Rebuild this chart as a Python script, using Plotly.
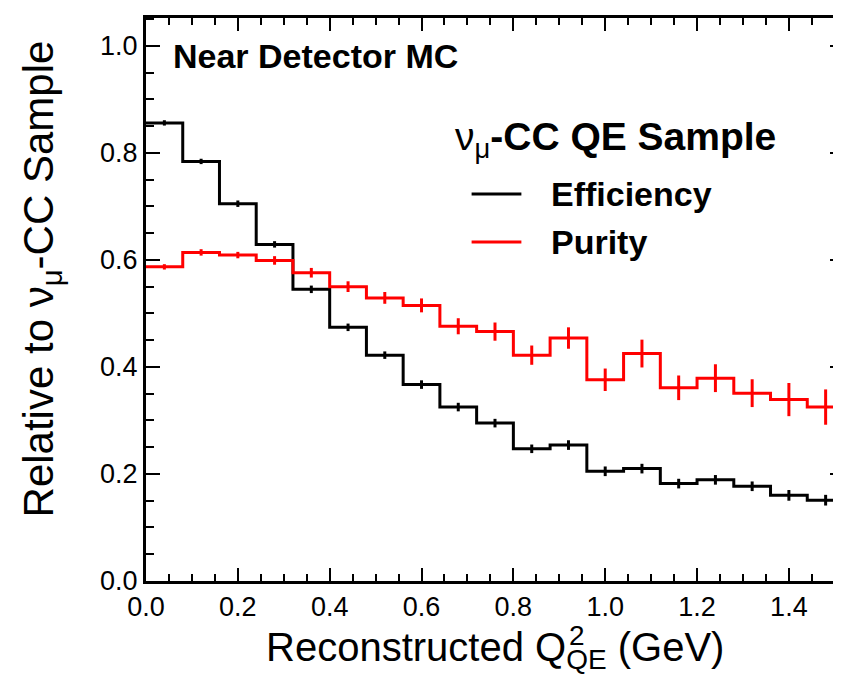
import plotly.graph_objects as go

# bin edges (GeV), 19 bins of 0.08
bin_edges = [round(0.08 * i, 2) for i in range(20)]

efficiency = [0.856, 0.784, 0.705, 0.629, 0.545, 0.474, 0.422, 0.367, 0.325, 0.295,
              0.247, 0.254, 0.205, 0.210, 0.182, 0.189, 0.177, 0.160, 0.151]
efficiency_err = [0.005, 0.005, 0.006, 0.006, 0.007, 0.007, 0.007, 0.008, 0.008, 0.008,
                  0.008, 0.009, 0.009, 0.009, 0.009, 0.009, 0.009, 0.010, 0.010]

purity = [0.587, 0.614, 0.609, 0.599, 0.576, 0.550, 0.529, 0.515, 0.476, 0.466,
          0.422, 0.454, 0.376, 0.425, 0.361, 0.379, 0.351, 0.339, 0.325]
purity_err = [0.005, 0.006, 0.006, 0.008, 0.009, 0.010, 0.011, 0.013, 0.015, 0.017,
              0.018, 0.020, 0.021, 0.026, 0.023, 0.026, 0.026, 0.031, 0.033]

x_tick_vals = [0.0, 0.2, 0.4, 0.6, 0.8, 1.0, 1.2, 1.4]
y_tick_vals = [0.0, 0.2, 0.4, 0.6, 0.8, 1.0]

FONT = "Liberation Sans, Arial, Helvetica, sans-serif"

centers = [(bin_edges[i] + bin_edges[i + 1]) / 2 for i in range(len(bin_edges) - 1)]

fig = go.Figure()

for vals, errs, col in [(efficiency, efficiency_err, "black"), (purity, purity_err, "#ff0000")]:
    fig.add_trace(go.Scatter(
        x=bin_edges, y=vals + [vals[-1]], mode="lines",
        line=dict(color=col, width=3, shape="hv"), showlegend=False, hoverinfo="skip"))
    fig.add_trace(go.Scatter(
        x=centers, y=vals, mode="markers", marker=dict(size=0.1, color=col),
        error_y=dict(type="data", array=errs, visible=True, color=col, thickness=3, width=0),
        showlegend=False))

# plot area in pixels: x 138..839, y 10..573
W, H = 841, 681
L, R, T, B = 138, 839, 10, 573

def px(x):
    return (x - L) / (R - L)

def py(y):
    return (B - y) / (B - T)

XT_SIZE = 40
# "Reconstructed Q" width in em (Liberation Sans) ~7.503, whole title incl. sub "QE" and " (GeV)" ~11.46 em
title_left = (L + R) / 2 - 11.46 * XT_SIZE / 2
sup_x = title_left + 7.503 * XT_SIZE + 1

annotations = [
    dict(text="<b>Near Detector MC</b>", x=px(163), y=py(48), xref="paper", yref="paper",
         xanchor="left", yanchor="middle", showarrow=False, font=dict(size=34, color="black", family=FONT)),
    dict(text="ν<sub>μ</sub><b>-CC QE Sample</b>", x=px(446), y=py(131), xref="paper", yref="paper",
         xanchor="left", yanchor="middle", showarrow=False, font=dict(size=39, color="black", family=FONT)),
    dict(text="<b>Efficiency</b>", x=px(543), y=py(186), xref="paper", yref="paper",
         xanchor="left", yanchor="middle", showarrow=False, font=dict(size=34, color="black", family=FONT)),
    dict(text="<b>Purity</b>", x=px(543), y=py(234), xref="paper", yref="paper",
         xanchor="left", yanchor="middle", showarrow=False, font=dict(size=34, color="black", family=FONT)),
    dict(text="Relative to ν<sub>μ</sub>-CC Sample", x=px(33), y=py(271), xref="paper", yref="paper",
         xanchor="center", yanchor="middle", textangle=-90, showarrow=False,
         font=dict(size=42, color="black", family=FONT)),
    dict(text="Reconstructed Q<sub>QE</sub> (GeV)", x=0.5, y=py(642), xref="paper", yref="paper",
         xanchor="center", yanchor="middle", showarrow=False,
         font=dict(size=XT_SIZE, color="black", family=FONT)),
    dict(text="2", x=px(sup_x), y=py(645), xref="paper", yref="paper",
         xanchor="left", yanchor="bottom", showarrow=False,
         font=dict(size=int(XT_SIZE * 0.7), color="black", family=FONT)),
]

shapes = [
    dict(type="line", xref="paper", yref="paper", x0=px(465), x1=px(515), y0=py(186), y1=py(186),
         line=dict(color="black", width=3)),
    dict(type="line", xref="paper", yref="paper", x0=px(465), x1=px(515), y0=py(234), y1=py(234),
         line=dict(color="#ff0000", width=3)),
]

axis_common = dict(
    showline=True, linecolor="black", linewidth=3, mirror="ticks",
    ticks="inside", tickcolor="black", tickwidth=2,
    showgrid=False, zeroline=False,
    tickfont=dict(size=27, color="black", family=FONT),
    tickformat=".1f",
)

fig.update_layout(
    width=W, height=H,
    margin=dict(l=L, r=W - R, t=T, b=H - B),
    paper_bgcolor="white", plot_bgcolor="white",
    xaxis=dict(range=[0, 1.52], tickvals=x_tick_vals, ticklen=13,
               minor=dict(dtick=0.05, ticks="inside", ticklen=7, tickcolor="black", tickwidth=2),
               **axis_common),
    yaxis=dict(range=[0, 1.052], tickvals=y_tick_vals, ticklen=14,
               minor=dict(dtick=0.05, ticks="inside", ticklen=8, tickcolor="black", tickwidth=2),
               **axis_common),
    annotations=annotations, shapes=shapes, showlegend=False,
)

fig.write_html("out.html")
